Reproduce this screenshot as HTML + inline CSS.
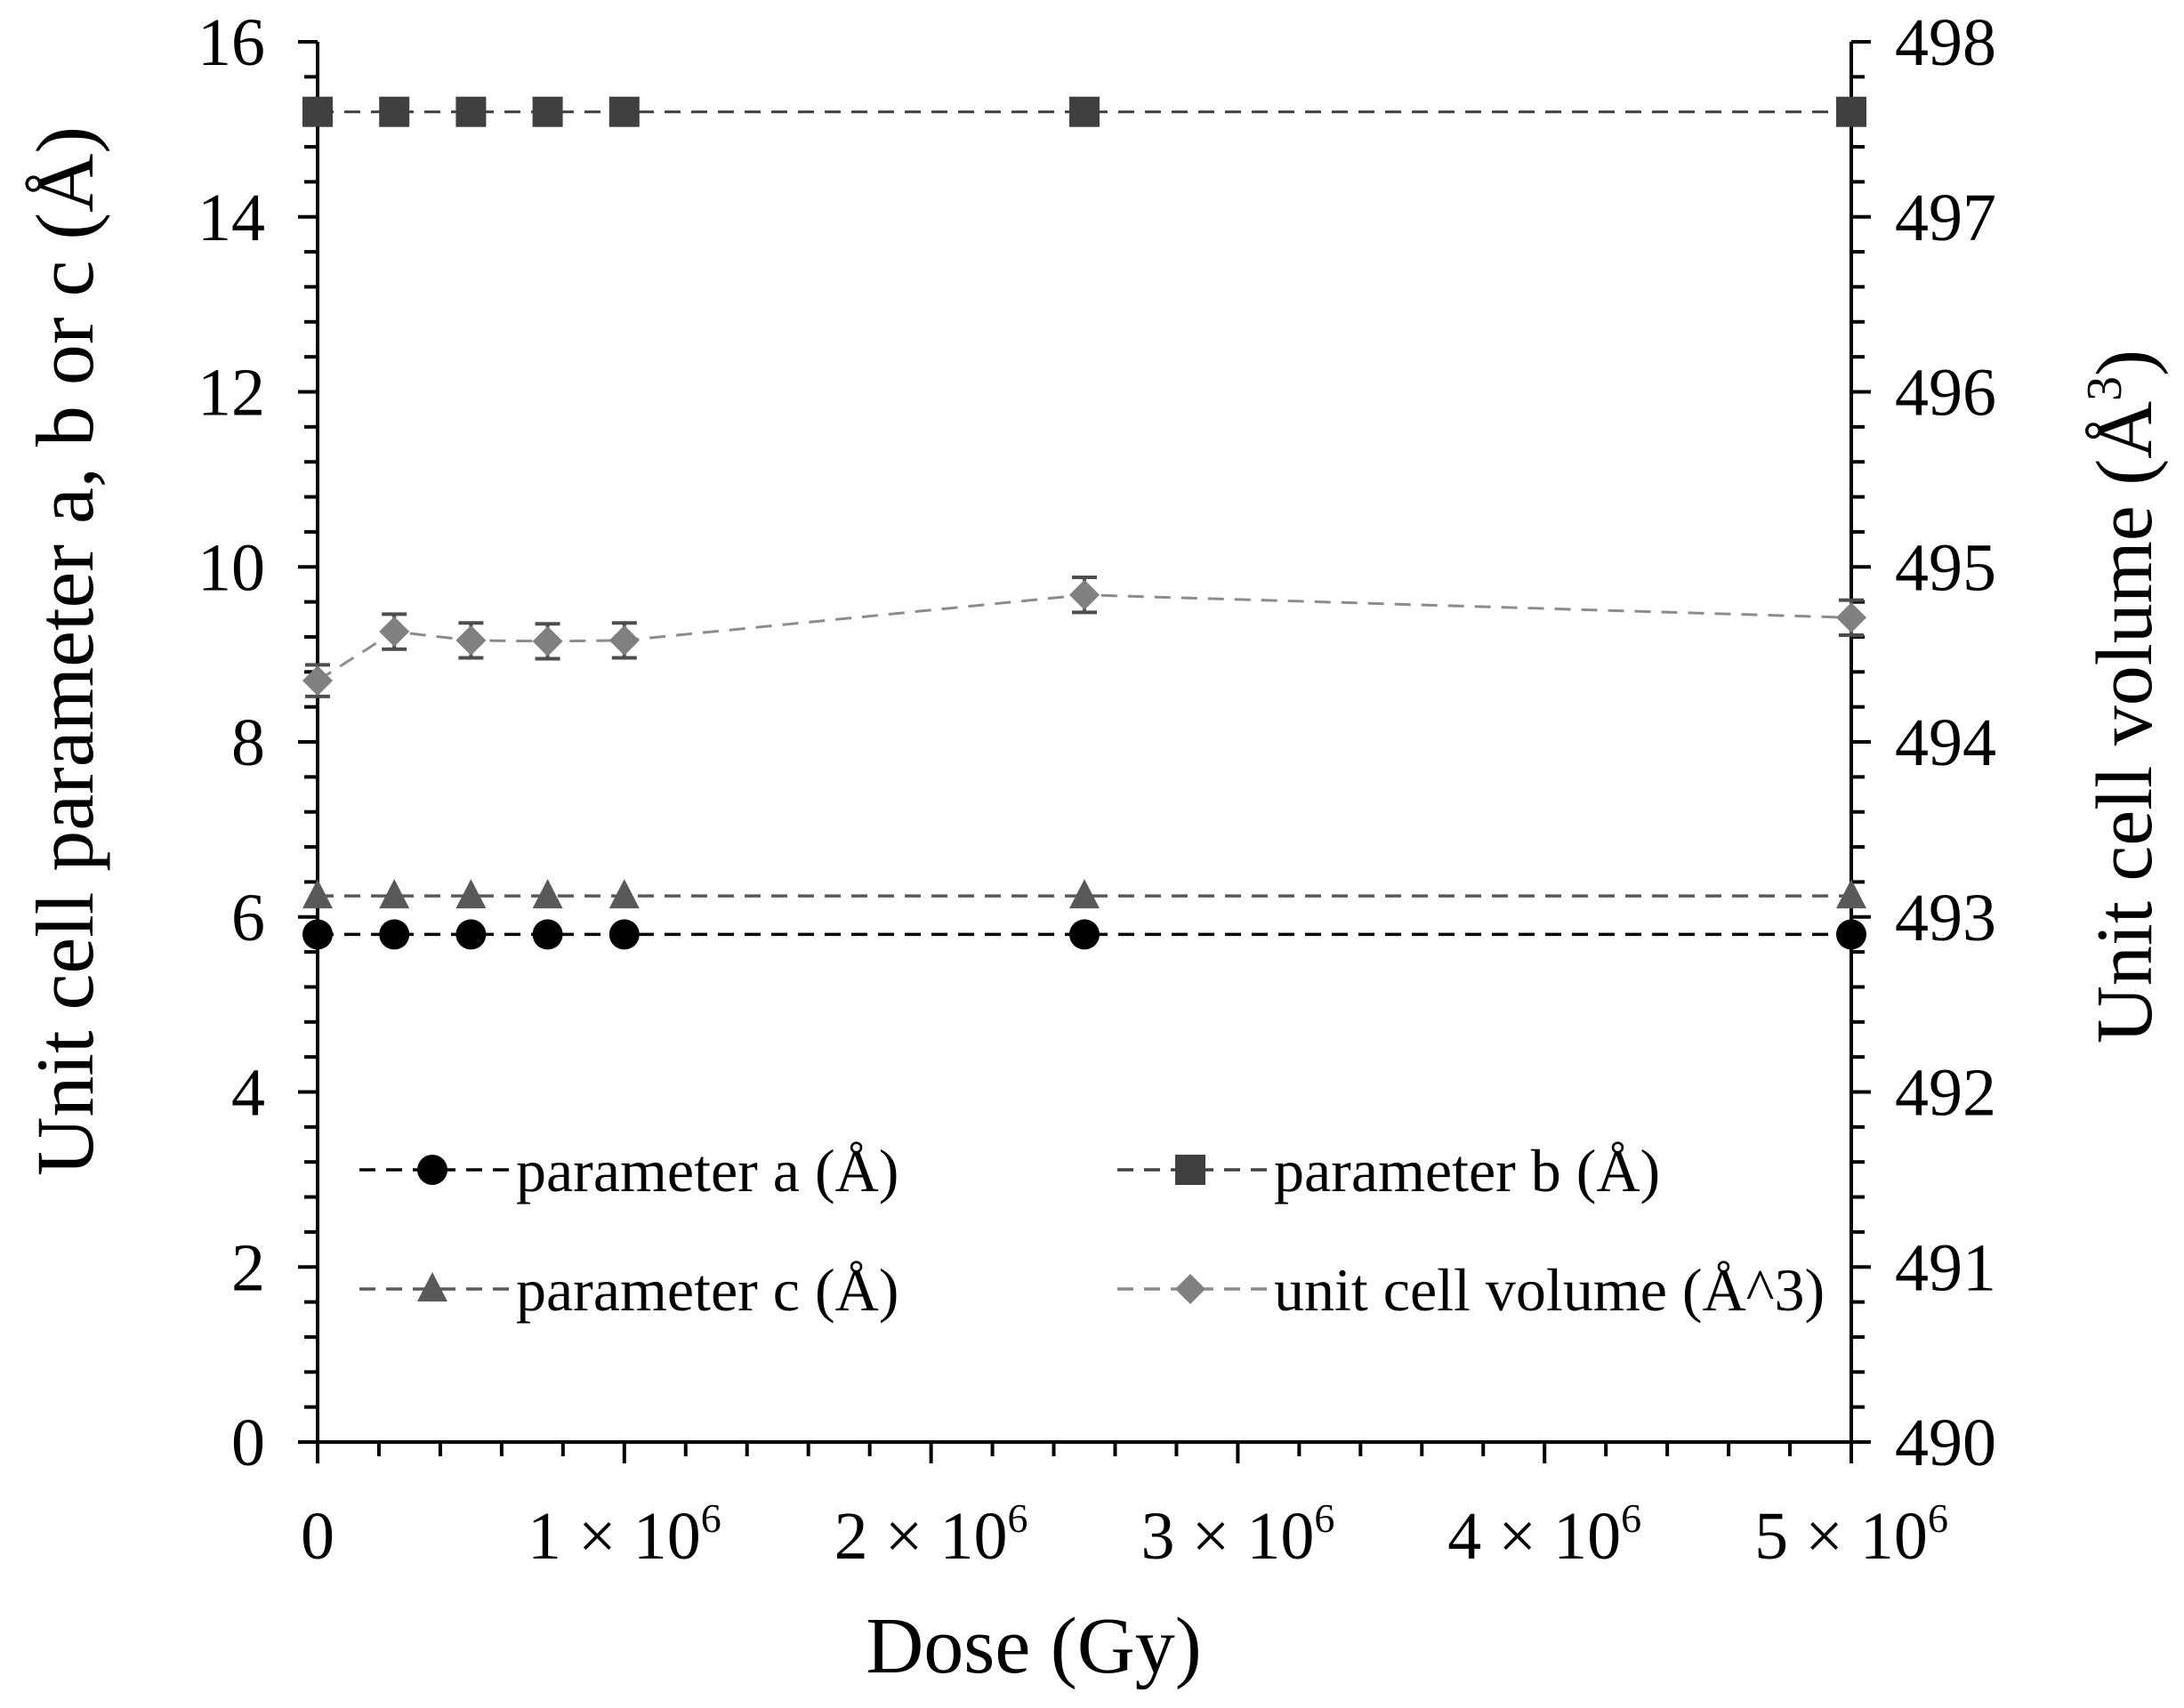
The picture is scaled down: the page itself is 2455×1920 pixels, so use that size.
<!DOCTYPE html>
<html><head><meta charset="utf-8"><style>
html,body{margin:0;padding:0;background:#fff;}
svg{display:block;font-family:"Liberation Serif",serif;}
</style></head><body>
<svg id="chart" width="2455" height="1920" viewBox="0 0 2455 1920" xmlns="http://www.w3.org/2000/svg">
<g id="axes"></g>
<g id="series"></g>
<g id="legend"></g>
<text x="1162" y="1880" font-size="90" text-anchor="middle">Dose (Gy)</text>
<text transform="translate(104,732) rotate(-90)" font-size="92" text-anchor="middle">Unit cell parameter a, b or c (Å)</text>
<text transform="translate(2418,783) rotate(-90)" font-size="90" text-anchor="middle">Unit cell volume (Å<tspan font-size="56" dy="-34">3</tspan><tspan dy="34">)</tspan></text>
</svg>
<script>
const doses = [0, 250000, 500000, 750000, 1000000, 2500000, 5000000];
const paramA = [5.80, 5.80, 5.80, 5.80, 5.80, 5.80, 5.80];
const paramB = [15.2, 15.2, 15.2, 15.2, 15.2, 15.2, 15.2];
const paramC = [6.24, 6.24, 6.24, 6.24, 6.24, 6.24, 6.24];
const volume = [494.35, 494.63, 494.58, 494.575, 494.58, 494.84, 494.71];
const volumeErr = [0.09, 0.1, 0.1, 0.1, 0.1, 0.1, 0.1];
const leftTicks = [0, 2, 4, 6, 8, 10, 12, 14, 16];
const rightTicks = [490, 491, 492, 493, 494, 495, 496, 497, 498];
const xTicks = [0, 1000000, 2000000, 3000000, 4000000, 5000000];
const xTickLabels = ["0", "1", "2", "3", "4", "5"];

const NS = "http://www.w3.org/2000/svg";
const X0 = 357, X1 = 2081, YB = 1621, YT = 47;
const sx = v => X0 + (v - 0) / 5000000 * (X1 - X0);
const syL = v => YB - v / 16 * (YB - YT);
const syR = v => YB - (v - 490) / 8 * (YB - YT);
function mk(tag, attrs, parent) { const e = document.createElementNS(NS, tag); for (const k in attrs) e.setAttribute(k, attrs[k]); parent.appendChild(e); return e; }
const axes = document.getElementById('axes');
const series = document.getElementById('series');
const legend = document.getElementById('legend');

let l = mk('line', {x1: X0, y1: YT, x2: X0, y2: YB, stroke: '#000', 'stroke-width': 4}, axes);
 
l = mk('line', {x1: X1, y1: YT, x2: X1, y2: YB, stroke: '#000', 'stroke-width': 4}, axes);
 
l = mk('line', {x1: X0 - 22, y1: YB, x2: X1 + 22, y2: YB, stroke: '#000', 'stroke-width': 4}, axes);
 

for (let v = 0; v <= 16.001; v += 0.4) {
  const major = Math.abs(v / 2 - Math.round(v / 2)) < 1e-6;
  mk('line', {x1: X0 - (major ? 22 : 15), y1: syL(v), x2: X0, y2: syL(v), stroke: '#000', 'stroke-width': 4}, axes);
}
leftTicks.forEach(v => {
  const t = mk('text', {x: 298, y: syL(v) + 26, 'font-size': 76, 'text-anchor': 'end'}, axes);
  
  
  t.textContent = v;
});
for (let v = 490; v <= 498.001; v += 0.2) {
  const major = Math.abs(v - Math.round(v)) < 1e-6;
  mk('line', {x1: X1, y1: syR(v), x2: X1 + (major ? 22 : 15), y2: syR(v), stroke: '#000', 'stroke-width': 4}, axes);
}
rightTicks.forEach(v => {
  const t = mk('text', {x: 2130, y: syR(v) + 26, 'font-size': 76}, axes);
  
  
  t.textContent = v;
});
for (let v = 0; v <= 5000001; v += 200000) {
  const major = v % 1000000 === 0;
  mk('line', {x1: sx(v), y1: YB, x2: sx(v), y2: YB + (major ? 24 : 16), stroke: '#000', 'stroke-width': 4}, axes);
}
xTicks.forEach((v, i) => {
  const t = mk('text', {x: sx(v), y: 1752, 'font-size': 76, 'text-anchor': 'middle'}, axes);
  
  
  if (v === 0) { t.textContent = '0'; }
  else {
    t.textContent = xTickLabels[i] + ' × 10';
    const s = mk('tspan', {'font-size': 46, dy: -30}, t); s.textContent = '6';
  }
});

function drawLine(vals, sy, color, w, name) {
  const pts = doses.map((d, i) => sx(d) + ',' + sy(vals[i])).join(' ');
  const p = mk('polyline', {points: pts, fill: 'none', stroke: color, 'stroke-width': w, 'stroke-dasharray': '18 12'}, series);
  
  
}
function marker(type, cx, cy, color, parent) {
  let m;
  if (type === 'circle') m = mk('circle', {cx: cx, cy: cy, r: 17, fill: color}, parent);
  else if (type === 'square') m = mk('rect', {x: cx - 17, y: cy - 17, width: 34, height: 34, fill: color}, parent);
  else if (type === 'triangle') m = mk('polygon', {points: `${cx},${cy - 19} ${cx + 17},${cy + 14} ${cx - 17},${cy + 14}`, fill: color}, parent);
  else m = mk('polygon', {points: `${cx},${cy - 17} ${cx + 17},${cy} ${cx},${cy + 17} ${cx - 17},${cy}`, fill: color}, parent);
  return m;
}
doses.forEach((d, i) => {
  const x = sx(d), y1 = syR(volume[i] + volumeErr[i]), y2 = syR(volume[i] - volumeErr[i]);
  const g = mk('g', {stroke: '#4d4d4d', 'stroke-width': 4}, series);
  
  
  mk('line', {x1: x, y1: y1, x2: x, y2: y2}, g);
  mk('line', {x1: x - 14, y1: y1, x2: x + 14, y2: y1}, g);
  mk('line', {x1: x - 14, y1: y2, x2: x + 14, y2: y2}, g);
});
drawLine(volume, syR, '#8c8c8c', 3, 'volume-line');
drawLine(paramC, syL, '#595959', 3.5, 'param-c-line');
drawLine(paramA, syL, '#000', 3.5, 'param-a-line');
drawLine(paramB, syL, '#404040', 3, 'param-b-line');
doses.forEach((d, i) => {
  let m = marker('diamond', sx(d), syR(volume[i]), '#808080', series);
   
  m = marker('triangle', sx(d), syL(paramC[i]), '#595959', series);
   
  m = marker('circle', sx(d), syL(paramA[i]), '#000', series);
   
  m = marker('square', sx(d), syL(paramB[i]), '#404040', series);
   
});

const entries = [
  {x: 404, y: 1315, type: 'circle', color: '#000', label: 'parameter a (Å)', name: 'legend-param-a'},
  {x: 1256, y: 1315, type: 'square', color: '#404040', label: 'parameter b (Å)', name: 'legend-param-b'},
  {x: 404, y: 1449, type: 'triangle', color: '#595959', label: 'parameter c (Å)', name: 'legend-param-c'},
  {x: 1256, y: 1449, type: 'diamond', color: '#8c8c8c', label: 'unit cell volume (Å^3)', name: 'legend-volume'}
];
entries.forEach(e => {
  const g = mk('g', {}, legend);
  
  
  mk('line', {x1: e.x, y1: e.y, x2: e.x + 168, y2: e.y, stroke: e.color, 'stroke-width': 3.5, 'stroke-dasharray': '18 12'}, g);
  marker(e.type, e.x + 82, e.y, e.color === '#8c8c8c' ? '#808080' : e.color, g);
  const t = mk('text', {x: e.x + 176, y: e.y + 24, 'font-size': 68}, g);
  t.textContent = e.label;
});
</script>
</body></html>
